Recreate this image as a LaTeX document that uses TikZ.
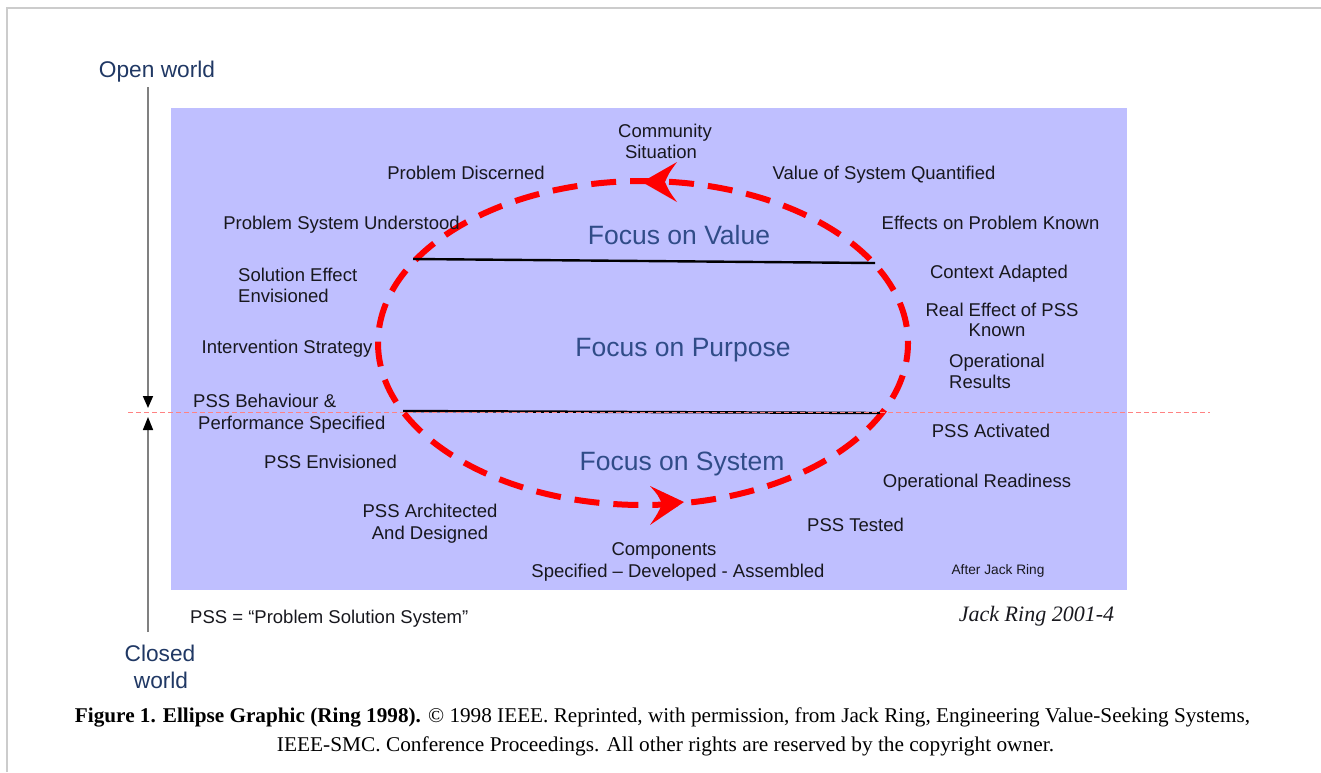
\documentclass[tikz,border=0pt]{standalone}
\usepackage{fontspec}
\setmainfont{Liberation Sans}
\newfontfamily\capserif{Liberation Serif}
\usetikzlibrary{arrows.meta}
\definecolor{panel}{RGB}{191,191,255}
\definecolor{ink}{RGB}{24,24,30}
\definecolor{navy}{RGB}{32,56,100}
\definecolor{focusblue}{RGB}{48,76,136}
\definecolor{ellred}{RGB}{255,0,0}
\definecolor{pinkline}{RGB}{255,130,130}
\tikzset{
  lbl/.style={font=\fontsize{18.5}{22}\selectfont, inner sep=0pt, anchor=base, text=ink},
  focus/.style={font=\fontsize{26.5}{30}\selectfont, inner sep=0pt, anchor=base, text=focusblue},
  world/.style={font=\fontsize{22.7}{27}\selectfont, inner sep=0pt, anchor=base, text=navy},
  small/.style={font=\fontsize{13.7}{16}\selectfont, inner sep=0pt, anchor=base, text=ink},
  caption/.style={font=\capserif\fontsize{21}{24}\selectfont, inner sep=0pt, anchor=base, text=black},
  axisline/.style={draw=gray, line width=1.6pt},
  ellpath/.style={draw=ellred, line width=6pt, dash pattern=on 25pt off 14pt},
  divider/.style={draw=black, line width=2.4pt},
  arrowhead/.style={fill=ellred, draw=none},
}
\begin{document}
\begin{tikzpicture}[x=1pt,y=-1pt]
\useasboundingbox (0,0) rectangle (1321,772);
% frame
\draw[draw=black!20, line width=1.5pt] (7,772) -- (7,8) -- (1321,8);
% panel
\fill[panel] (171,108) rectangle (1127,590);

% ellipse
\coordinate (ec) at (643,343);
\draw[ellpath, dash phase=6pt] (ec) ellipse [x radius=265, y radius=162];
% arrowheads
\fill[arrowhead] (642,182) -- (677,162) .. controls (669,173) .. (665,182) .. controls (669,191) .. (677,202) -- cycle;
\fill[arrowhead] (684,502) -- (650,486) .. controls (658,495) .. (662,504) .. controls (658,513) .. (650,525) -- cycle;

% dividers
\coordinate (tl) at (413,259);
\coordinate (tr) at (875,263);
\coordinate (bl) at (403,411);
\coordinate (br) at (880,413);
\draw[divider] (tl) -- (tr);
\draw[divider] (bl) -- (br);

% open/closed axis
\coordinate (axtop) at (148,87);
\coordinate (axdown) at (148,408);
\coordinate (axup) at (148,417);
\coordinate (axbot) at (148,632);
\draw[axisline, -{Triangle[black,length=12pt,width=10pt]}] (axtop) -- (axdown);
\draw[axisline, -{Triangle[black,length=13pt,width=10pt]}] (axbot) -- (axup);
% pink boundary
\coordinate (pl) at (128,412);
\coordinate (pr) at (1210,412);
\draw[pinkline, line width=1pt, dash pattern=on 5pt off 3pt] (pl) -- (pr);

% world labels
\node[world] (open) at (157,77) {Open world};
\node[world] (closed1) at (160,661) {Closed};
\node[world] (closed2) at (161,688) {world};

% focus labels
\node[focus] (fvalue) at (679,244.5) {Focus on Value};
\node[focus] (fpurpose) at (683,356.5) {Focus on Purpose};
\node[focus] (fsystem) at (682,470.5) {Focus on System};

% cycle labels
\node[lbl] (comm1) at (665,137.5) {Community};
\node[lbl] (comm2) at (661,158.5) {Situation};
\node[lbl] (pdisc) at (466,179.5) {Problem Discerned};
\node[lbl] (vsq) at (884,179.5) {Value of System Quantified};
\node[lbl] (psu) at (341.5,229.5) {Problem System Understood};
\node[lbl] (epk) at (990.5,229.5) {Effects on Problem Known};
\node[lbl, anchor=base west] (see1) at (238,281.5) {Solution Effect};
\node[lbl, anchor=base west] (see2) at (238,302.5) {Envisioned};
\node[lbl] (ca) at (999,278.5) {Context Adapted};
\node[lbl] (rep1) at (1002,316.5) {Real Effect of PSS};
\node[lbl] (rep2) at (997,336.5) {Known};
\node[lbl] (is) at (287,353.5) {Intervention Strategy};
\node[lbl, anchor=base west] (or1) at (949,367.5) {Operational};
\node[lbl, anchor=base west] (or2) at (949,388.5) {Results};
\node[lbl, anchor=base west] (pbp1) at (193,407.5) {PSS Behaviour \&};
\node[lbl, anchor=base west] (pbp2) at (198,429.5) {Performance Specified};
\node[lbl] (pa) at (991,437.5) {PSS Activated};
\node[lbl] (pe) at (330.5,468.5) {PSS Envisioned};
\node[lbl] (ord) at (977,487.5) {Operational Readiness};
\node[lbl] (pad1) at (430,517.5) {PSS Architected};
\node[lbl] (pad2) at (430,539.5) {And Designed};
\node[lbl] (pt) at (855.5,531.5) {PSS Tested};
\node[lbl] (cmp1) at (664,555.5) {Components};
\node[lbl] (cmp2) at (678,577.5) {Specified -- Developed - Assembled};
\node[small] (ajr) at (998,574) {After Jack Ring};

% below panel
\node[lbl, anchor=base west] (pssdef) at (190,623.5) {PSS = “Problem Solution System”};
\node[font=\capserif\itshape\fontsize{22}{25}\selectfont, inner sep=0pt, anchor=base, text=ink] (jr) at (1036.5,621) {Jack Ring 2001-4};

% caption
\node[caption] (cap1) at (662.5,722) {\resizebox{1175pt}{\height}{\textbf{Figure 1. Ellipse Graphic (Ring 1998).} © 1998 IEEE. Reprinted, with permission, from Jack Ring, Engineering Value-Seeking Systems,}};
\node[caption] (cap2) at (665.5,751) {\resizebox{777pt}{\height}{IEEE-SMC. Conference Proceedings. All other rights are reserved by the copyright owner.}};
\end{tikzpicture}
\end{document}
